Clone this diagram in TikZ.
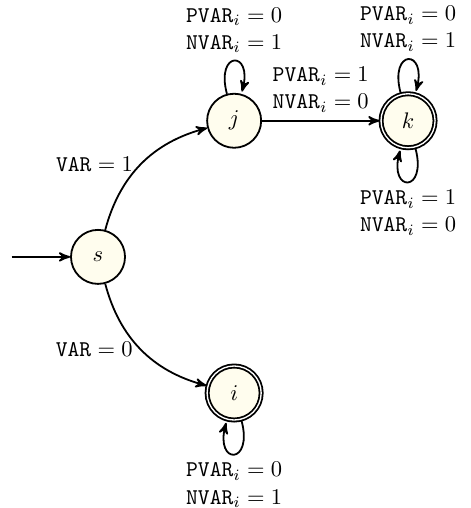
\documentclass[tikz,border=0pt]{standalone}
\usepackage{tikz}
\usetikzlibrary{automata}
\usetikzlibrary{arrows}
\usetikzlibrary{positioning}

\definecolor{statefill}{RGB}{255,253,238}

\begin{document}
\begin{tikzpicture}[->,>=stealth',thick,
                    every state/.style={fill=statefill,minimum size=24pt},
                    initial text={},initial distance=26pt,
                    lbl/.style={align=center}]
 \useasboundingbox (-1.53,-3.92) rectangle (5.82,4.01);
 \node[state,initial] (s) at (0,0) {$s$};
 \node[state] (j) at (2.125,2.125) {$j$};
 \node[state,accepting] (k) at (4.84,2.125) {$k$};
 \node[state,accepting] (i) at (2.125,-2.125) {$i$};

 \path (s) edge[bend left] 
                node[left] {$\texttt{VAR}=1$} (j)
           edge[bend right] 
                node[left] {$\texttt{VAR}=0$} (i)
       (j) edge[loop above] 
                node[above,lbl] {$\texttt{PVAR}_i=0$\\$\texttt{NVAR}_i=1$} ()
           edge 
                node[above,lbl] {$\texttt{PVAR}_i=1$\\$\texttt{NVAR}_i=0$} (k)
       (k) edge[loop above] 
                node[above,lbl] {$\texttt{PVAR}_i=0$\\$\texttt{NVAR}_i=1$} ()
           edge[loop below] 
                node[below,lbl] {$\texttt{PVAR}_i=1$\\$\texttt{NVAR}_i=0$} ()
       (i) edge[loop below] 
                node[below,lbl] {$\texttt{PVAR}_i=0$\\$\texttt{NVAR}_i=1$} ();
\end{tikzpicture}
\end{document}
